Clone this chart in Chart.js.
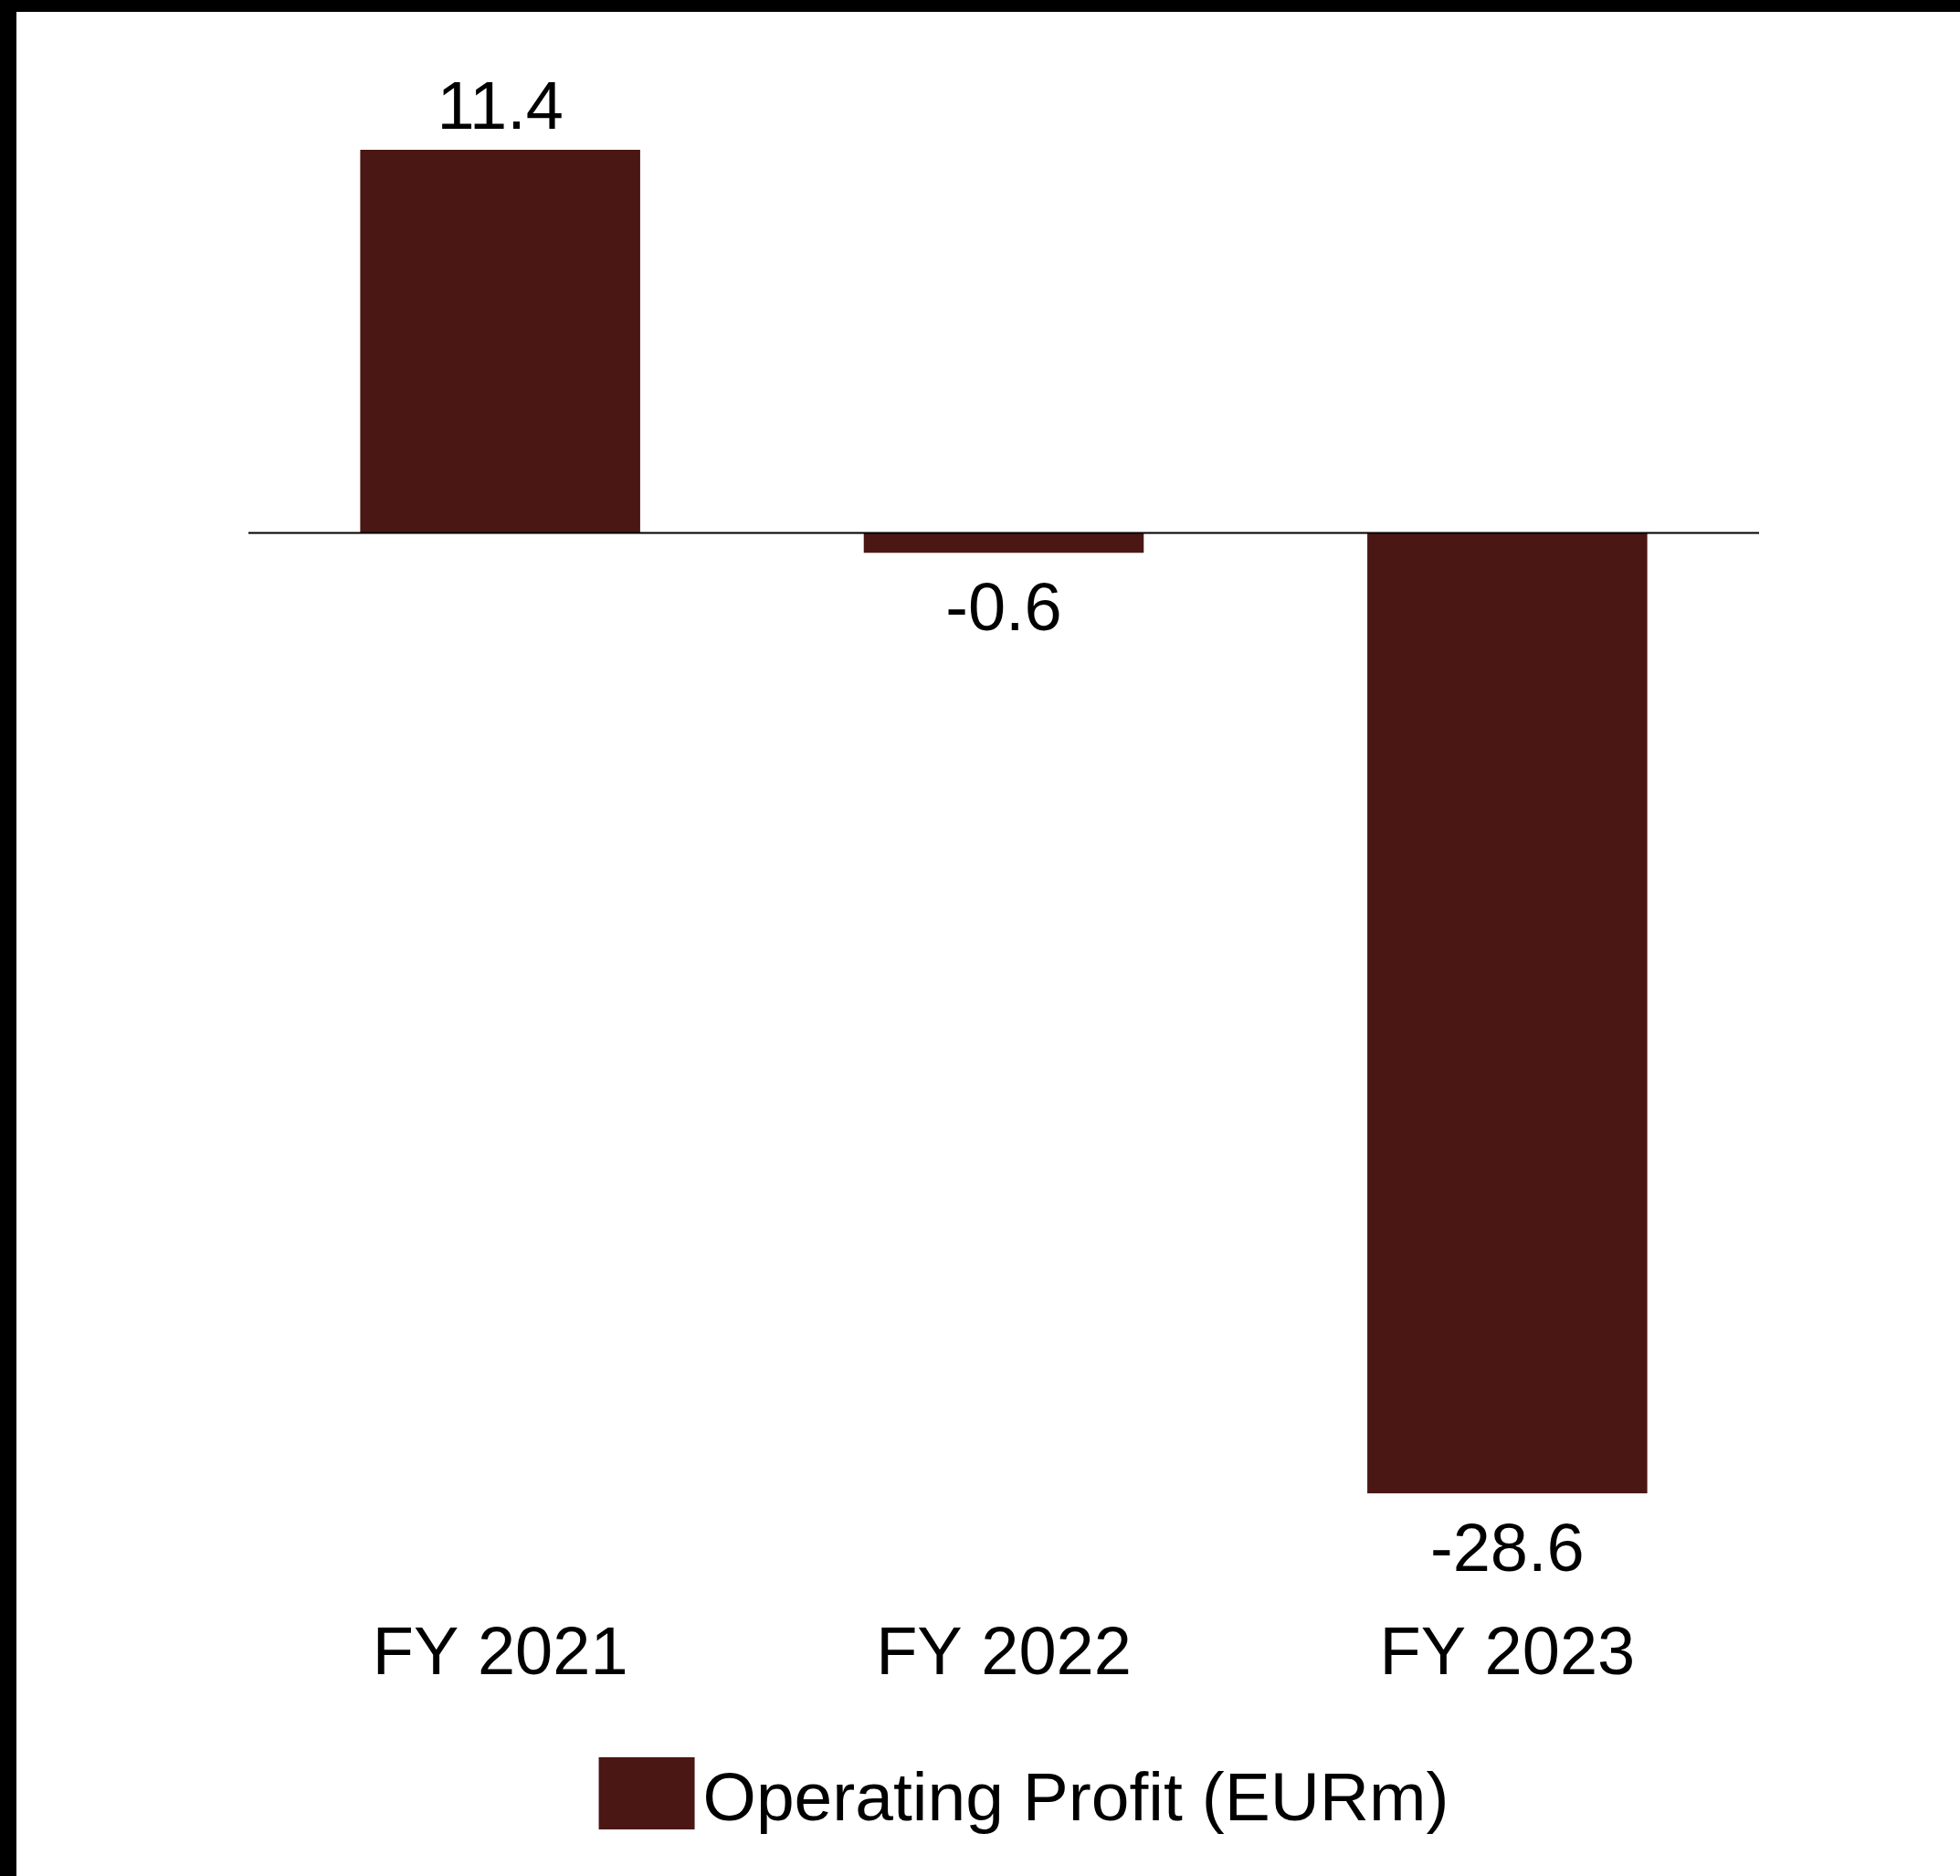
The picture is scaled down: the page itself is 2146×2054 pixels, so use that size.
<!DOCTYPE html>
<html>
<head>
<meta charset="utf-8">
<script src="https://cdn.jsdelivr.net/npm/chart.js@4.4.1/dist/chart.umd.min.js"></script>
<style>
  html, body { margin: 0; padding: 0; background: #ffffff; }
  #wrap { width: 2146px; height: 2054px; position: relative; }
  canvas { display: block; }
</style>
</head>
<body>
<div id="wrap"><canvas id="c" width="2146" height="2054"></canvas></div>
<script>
// ---- Data ----
const categories = ["FY 2021", "FY 2022", "FY 2023"];
const operatingProfit = [11.4, -0.6, -28.6];
const seriesLabel = "Operating Profit (EURm)";

const BAR_COLOR = "#4A1714";
const FONT = '"Liberation Sans", Arial, Helvetica, sans-serif';
const FS = 74;
const LEGEND_FS = 75;

const framePlugin = {
  id: 'frame',
  beforeDraw(chart) {
    const ctx = chart.ctx;
    ctx.save();
    ctx.fillStyle = '#ffffff';
    ctx.fillRect(0, 0, chart.width, chart.height);
    ctx.fillStyle = '#000000';
    ctx.fillRect(0, 0, chart.width, 13);
    ctx.fillRect(0, 0, 18, chart.height);
    ctx.restore();
  }
};

const zeroLinePlugin = {
  id: 'zeroLine',
  afterDatasetsDraw(chart) {
    const ctx = chart.ctx;
    const y = chart.scales.y.getPixelForValue(0);
    ctx.save();
    ctx.strokeStyle = '#000000';
    ctx.lineWidth = 2;
    ctx.beginPath();
    ctx.moveTo(chart.chartArea.left, Math.round(y) + 0.5);
    ctx.lineTo(chart.chartArea.right, Math.round(y) + 0.5);
    ctx.stroke();
    ctx.restore();
  }
};

const valueLabelPlugin = {
  id: 'valueLabels',
  afterDatasetsDraw(chart) {
    const ctx = chart.ctx;
    const meta = chart.getDatasetMeta(0);
    const data = chart.data.datasets[0].data;
    ctx.save();
    ctx.font = FS + 'px ' + FONT;
    ctx.fillStyle = '#000000';
    ctx.textAlign = 'center';
    ctx.textBaseline = 'alphabetic';
    meta.data.forEach((bar, i) => {
      const v = data[i];
      const txt = v.toFixed(1);
      const y = v >= 0 ? bar.y - 23 : bar.y + 85;
      ctx.fillText(txt, bar.x, y);
    });
    ctx.restore();
  }
};

const legendPlugin = {
  id: 'customLegend',
  afterDraw(chart) {
    const ctx = chart.ctx;
    const ds = chart.data.datasets[0];
    ctx.save();
    ctx.font = LEGEND_FS + 'px ' + FONT;
    const tw = ctx.measureText(ds.label).width;
    const boxW = 105, boxH = 79, gap = 9;
    const total = boxW + gap + tw;
    const cx = (chart.chartArea.left + chart.chartArea.right) / 2 + 22;
    const x0 = cx - total / 2;
    const boxTop = 1924;
    ctx.fillStyle = ds.backgroundColor;
    ctx.fillRect(x0, boxTop, boxW, boxH);
    ctx.fillStyle = '#000000';
    ctx.textAlign = 'left';
    ctx.textBaseline = 'alphabetic';
    ctx.fillText(ds.label, x0 + boxW + gap, 1993);
    ctx.restore();
  }
};

new Chart(document.getElementById('c'), {
  type: 'bar',
  data: {
    labels: categories,
    datasets: [{
      label: seriesLabel,
      data: operatingProfit,
      backgroundColor: BAR_COLOR,
      borderWidth: 0,
      categoryPercentage: 1.0,
      barPercentage: 0.556
    }]
  },
  options: {
    responsive: false,
    animation: false,
    devicePixelRatio: 1,
    layout: { padding: { top: 164, left: 272, right: 220, bottom: 159 } },
    plugins: {
      legend: { display: false },
      tooltip: { enabled: false },
      title: { display: false }
    },
    scales: {
      x: {
        position: 'bottom',
        grid: { display: false, drawTicks: false },
        border: { display: false },
        ticks: {
          color: '#000000',
          font: { family: FONT, size: FS },
          padding: 133,
          maxRotation: 0,
          autoSkip: false
        },
        afterFit(scale) { scale.height = 260; }
      },
      y: {
        display: false,
        min: -28.6,
        max: 11.4
      }
    }
  },
  plugins: [framePlugin, zeroLinePlugin, valueLabelPlugin, legendPlugin]
});
</script>
</body>
</html>
